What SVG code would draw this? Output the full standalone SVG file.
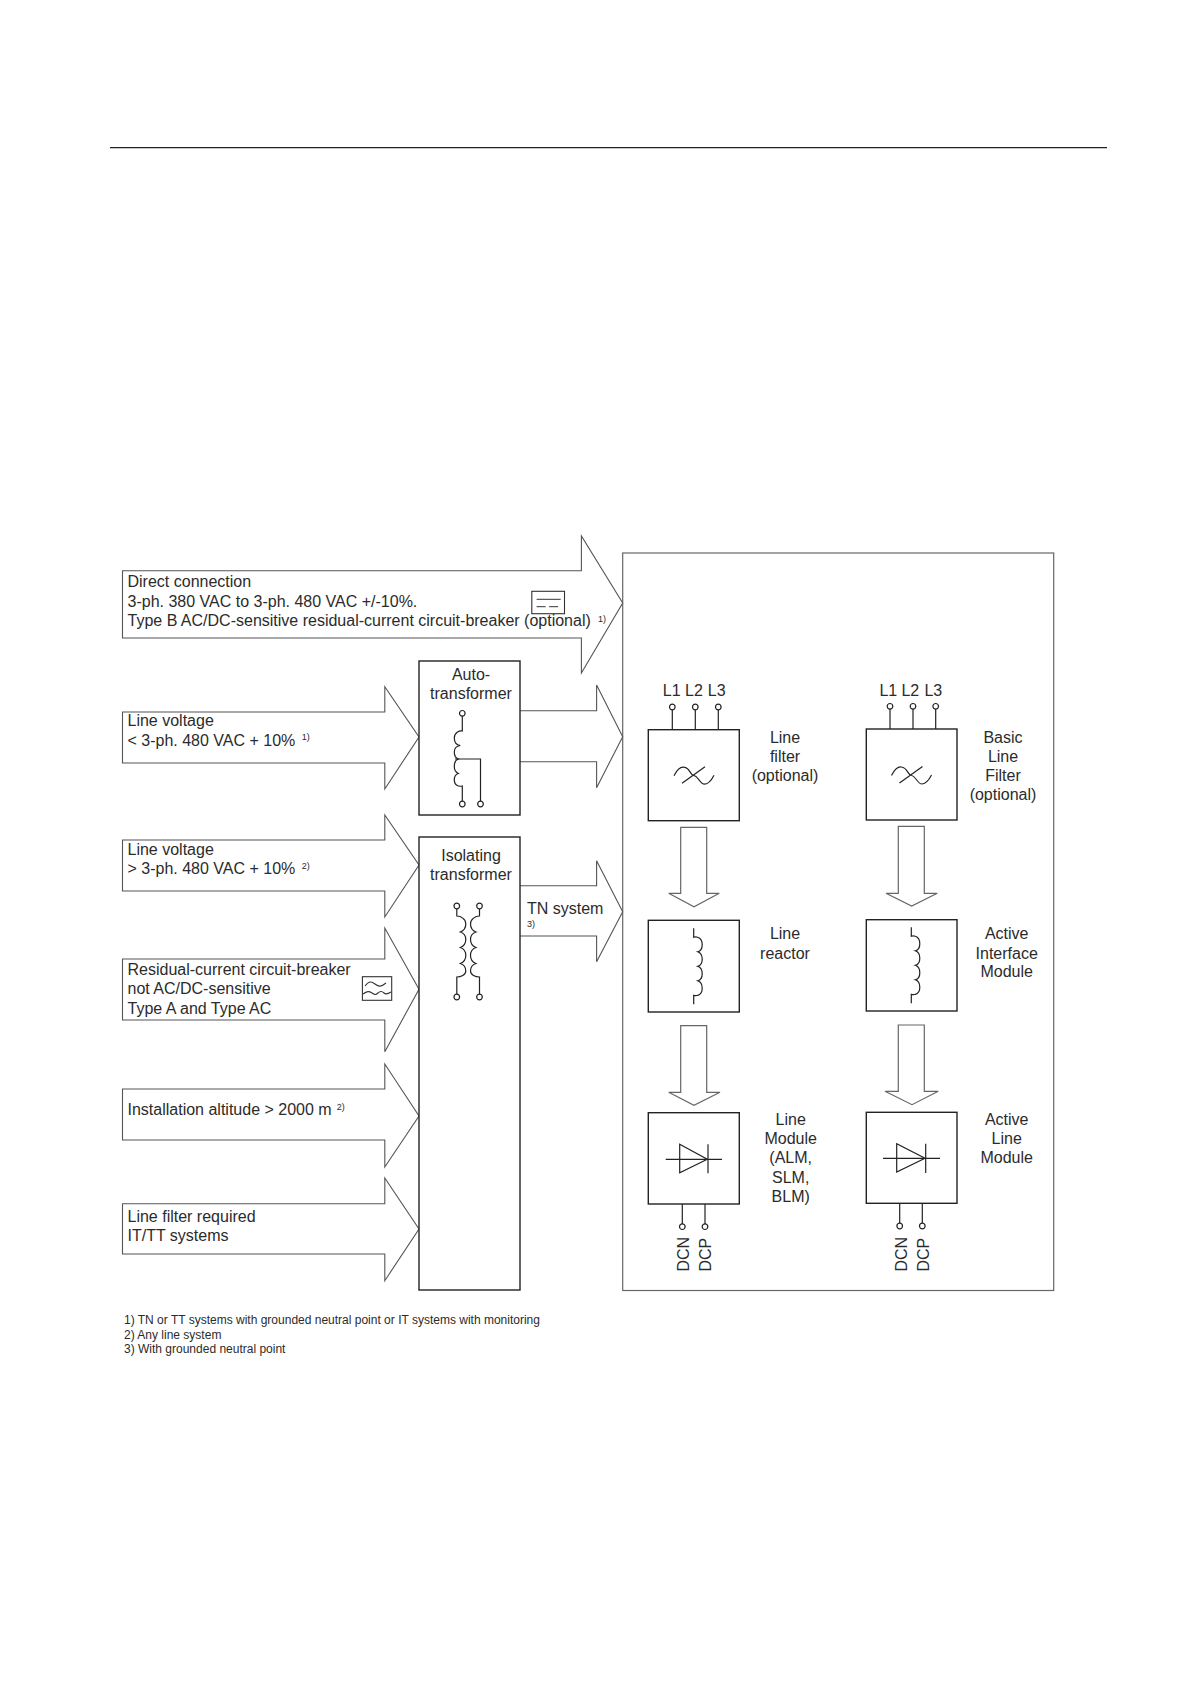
<svg xmlns="http://www.w3.org/2000/svg" width="1191" height="1684" viewBox="0 0 1191 1684">
<defs>
<style>
text{font-family:"Liberation Sans",Arial,sans-serif;font-size:16px;fill:#2b2b2b}
.c{text-anchor:middle}
.s{font-size:9px}
.f{font-size:12px}
.a{fill:#fff;stroke:#555;stroke-width:1.1}
.b{fill:#fff;stroke:#222;stroke-width:1.4}
.o{fill:#fff;stroke:#666;stroke-width:1.2}
.l{fill:none;stroke:#222;stroke-width:1.2}
.t{fill:#fff;stroke:#222;stroke-width:1.2}
</style>
<g id="term"><circle r="2.8" class="t"/></g>
<path id="coil" class="l" d="M0 0v9c0 0 2-1 4 0c6 2 6 13 0 14.500c6 2 6 13 0 14.500c6 2 6 13 0 14.500c6 2 6 13 0 14.500c-1.500 .5-4 0-4 0v9"/>
<path id="filt" class="l" d="M-20 0c3-6 6-9 10-8.500c6 .5 6 8 10 8.500c4 .5 6 8 10 8.500c5 0 8-5 10-9M-12 7.500L11-9"/>
</defs>
<rect width="1191" height="1684" fill="#fff"/>
<path d="M110 147.700H1107" stroke="#222" stroke-width="1.2" fill="none"/>
<g id="module-frame"><rect class="o" x="622.700" y="553" width="431" height="737.500"/></g>
<g id="connectors">
<path class="a" d="M122.500 570.700H581.400V536L622.700 603L581.400 673V638H122.500Z"/>
<path class="a" d="M122.500 712H384.800V686.700L419 737L384.800 789V763H122.500Z"/>
<path class="a" d="M122.500 840H384.800V815L419 865L384.800 917V891H122.500Z"/>
<path class="a" d="M122.500 959H384.800V928L419 989.300L384.800 1051.700V1020H122.500Z"/>
<path class="a" d="M122.500 1089H384.800V1064L419 1116L384.800 1167V1140H122.500Z"/>
<path class="a" d="M122.500 1203.700H384.800V1178L419 1229L384.800 1280.700V1254H122.500Z"/>
<path class="a" d="M520 710.700H596.600V685L622.700 736.700L596.600 787.700V761.700H520"/>
<path class="a" d="M520 885.700H596.600V860.700L622.700 911.700L596.600 961.700V936H520"/>
<path class="o" d="M680.700 827.300H706.700V893.300H719.300L694 906.700L668.700 893.300H680.700Z"/>
<path class="o" d="M898.300 826.300H924.300V893.300H937.300L911.700 906L886 893.300H898.300Z"/>
<path class="o" d="M680.700 1025.700H706.700V1092.300H720L694 1105.300L668.700 1092.300H680.700Z"/>
<path class="o" d="M898.300 1025H924.300V1091.300H938.300L912 1104.700L885 1091.300H898.300Z"/>
</g>
<g id="direct-connection">
<text x="127.500" y="587.300">Direct connection</text>
<text x="127.500" y="606.800">3-ph. 380 VAC to 3-ph. 480 VAC +/-10%.</text>
<text x="127.500" y="626">Type B AC/DC-sensitive residual-current circuit-breaker (optional)</text>
<text class="s" x="598" y="622">1)</text>
<rect x="531.800" y="591.300" width="32.700" height="22.400" fill="none" stroke="#333" stroke-width="1.1"/>
<path d="M536.600 599.300H560.700" stroke="#333" fill="none"/>
<path d="M536.600 606.700H560.700" stroke="#333" fill="none" stroke-dasharray="9 3.500"/>
</g>
<g id="line-voltage-low">
<text x="127.500" y="726">Line voltage</text>
<text x="127.500" y="745.500">&lt; 3-ph. 480 VAC + 10%</text>
<text class="s" x="301.800" y="740">1)</text>
</g>
<g id="line-voltage-high">
<text x="127.500" y="855">Line voltage</text>
<text x="127.500" y="874.300">&gt; 3-ph. 480 VAC + 10%</text>
<text class="s" x="301.800" y="869">2)</text>
</g>
<g id="rccb">
<text x="127.500" y="974.800">Residual-current circuit-breaker</text>
<text x="127.500" y="994.200">not AC/DC-sensitive</text>
<text x="127.500" y="1013.500">Type A and Type AC</text>
<rect x="362.400" y="976.700" width="29.300" height="23.600" fill="none" stroke="#333" stroke-width="1.1"/>
<path d="M365 986c4-5 6-5 10-2s6 3 11-1M363 994c4-3 6-3 9-1s4 2 6 0s4-2 6 0s4 1 7-1" fill="none" stroke="#333" stroke-width="1.100"/>
</g>
<g id="altitude">
<text x="127.500" y="1115">Installation altitude &gt; 2000 m</text>
<text class="s" x="336.800" y="1110">2)</text>
</g>
<g id="line-filter-required">
<text x="127.500" y="1221.700">Line filter required</text>
<text x="127.500" y="1241">IT/TT systems</text>
</g>
<g id="auto-transformer">
<rect class="b" x="419" y="661" width="101" height="154"/>
<text class="c" x="471" y="680">Auto-</text>
<text class="c" x="471" y="699.300">transformer</text>
<path class="l" d="M462.300 716V731c-3-.5-8 1.500-8 7c0 5 3 7 6 7.500c-4 .5-6 3-6 6.500c0 4 1 6 4 7c-3 1-4 4-4 7.500c0 4 2 6 4 7c-3 1-4 3-4 6.500c0 5 4 7 8 6V801"/>
<path class="l" d="M455 759H480.500V801"/>
<use href="#term" x="462.300" y="713.300"/>
<use href="#term" x="462.300" y="804"/>
<use href="#term" x="480.500" y="804"/>
</g>
<g id="isolating-transformer">
<rect class="b" x="419" y="837" width="101" height="453"/>
<text class="c" x="471" y="861.300">Isolating</text>
<text class="c" x="471" y="880">transformer</text>
<path class="l" d="M456.800 909V916c4 0 9 3 9 8c0 5-3 7-5.500 8c3 1 5.500 3 5.500 7.500c0 4.500-3 7-5.500 8c3 1 5.500 3 5.500 8c0 4.500-3 7-5.500 8c3 1 5.500 3 5.500 7.500c0 4-5 6-9 6V994"/>
<path class="l" d="M479.500 909V916c-4 0-9 3-9 8c0 5 3 7 5.500 8c-3 1-5.500 3-5.500 7.500c0 4.500 3 7 5.500 8c-3 1-5.500 3-5.500 8c0 4.500 3 7 5.500 8c-3 1-5.500 3-5.500 7.500c0 4 5 6 9 6V994"/>
<use href="#term" x="456.800" y="906"/>
<use href="#term" x="479.500" y="906"/>
<use href="#term" x="456.800" y="997"/>
<use href="#term" x="479.500" y="997"/>
</g>
<g id="tn-system">
<text x="527" y="914">TN system</text>
<text class="s" x="527" y="927">3)</text>
</g>
<g id="line-filter">
<rect class="b" x="648.300" y="729.700" width="91" height="91"/>
<path class="l" d="M672.300 707V729.700M695.300 707V729.700M718.300 707V729.700"/>
<use href="#term" x="672.300" y="707"/>
<use href="#term" x="695.300" y="707"/>
<use href="#term" x="718.300" y="707"/>
<text class="c" x="671.700" y="696">L1</text>
<text class="c" x="694" y="696">L2</text>
<text class="c" x="716.700" y="696">L3</text>
<use href="#filt" x="694" y="775.700"/>
<text class="c" x="785" y="742.700">Line</text>
<text class="c" x="785" y="761.700">filter</text>
<text class="c" x="785" y="780.700">(optional)</text>
</g>
<g id="basic-line-filter">
<rect class="b" x="866.300" y="729" width="90.700" height="91"/>
<path class="l" d="M890 706.300V729M913 706.300V729M935.700 706.300V729"/>
<use href="#term" x="890" y="706.300"/>
<use href="#term" x="913" y="706.300"/>
<use href="#term" x="935.700" y="706.300"/>
<text class="c" x="888.300" y="696">L1</text>
<text class="c" x="910.300" y="696">L2</text>
<text class="c" x="933.300" y="696">L3</text>
<use href="#filt" x="911.500" y="775.500"/>
<text class="c" x="1003" y="742.700">Basic</text>
<text class="c" x="1003" y="761.700">Line</text>
<text class="c" x="1003" y="780.700">Filter</text>
<text class="c" x="1003" y="800">(optional)</text>
</g>
<g id="line-reactor">
<rect class="b" x="648.300" y="920.300" width="91" height="91.700"/>
<use href="#coil" x="693.700" y="928.300"/>
<text class="c" x="785" y="939.300">Line</text>
<text class="c" x="785" y="958.700">reactor</text>
</g>
<g id="active-interface-module">
<rect class="b" x="866.300" y="919.700" width="90.700" height="91.300"/>
<use href="#coil" x="911.300" y="927.300"/>
<text class="c" x="1006.700" y="939.300">Active</text>
<text class="c" x="1006.700" y="958.700">Interface</text>
<text class="c" x="1006.700" y="977.300">Module</text>
</g>
<g id="line-module">
<rect class="b" x="648.300" y="1112.700" width="91" height="91.300"/>
<path class="l" d="M665.700 1159.300H722M679.700 1144.300V1172.700L707.300 1159.300ZM708 1144.300V1173.300"/>
<path class="l" d="M682.300 1204V1224M705 1204V1224"/>
<use href="#term" x="682.300" y="1226.700"/>
<use href="#term" x="705" y="1226.700"/>
<text transform="translate(689 1271.500) rotate(-90)">DCN</text>
<text transform="translate(710.700 1271.500) rotate(-90)">DCP</text>
<text class="c" x="790.700" y="1125">Line</text>
<text class="c" x="790.700" y="1144.300">Module</text>
<text class="c" x="790.700" y="1163.300">(ALM,</text>
<text class="c" x="790.700" y="1183">SLM,</text>
<text class="c" x="790.700" y="1201.700">BLM)</text>
</g>
<g id="active-line-module">
<rect class="b" x="866.300" y="1112.300" width="90.700" height="91"/>
<path class="l" d="M883 1158.300H940M896.700 1143.700V1172L925 1158.300ZM925.700 1143.700V1173"/>
<path class="l" d="M899.700 1203.300V1223M922.300 1203.300V1223"/>
<use href="#term" x="899.700" y="1226"/>
<use href="#term" x="922.300" y="1226"/>
<text transform="translate(906.700 1271.500) rotate(-90)">DCN</text>
<text transform="translate(928.700 1271.500) rotate(-90)">DCP</text>
<text class="c" x="1006.700" y="1125">Active</text>
<text class="c" x="1006.700" y="1144.300">Line</text>
<text class="c" x="1006.700" y="1163.300">Module</text>
</g>
<g id="footnotes">
<text class="f" x="124" y="1324">1) TN or TT systems with grounded neutral point or IT systems with monitoring</text>
<text class="f" x="124" y="1338.500">2) Any line system</text>
<text class="f" x="124" y="1353">3) With grounded neutral point</text>
</g>
</svg>
